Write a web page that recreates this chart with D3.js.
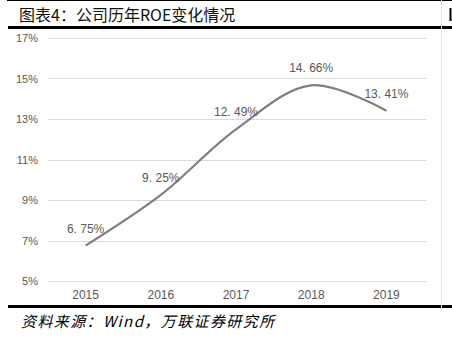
<!DOCTYPE html>
<html>
<head>
<meta charset="utf-8">
<script src="https://cdn.jsdelivr.net/npm/d3@7/dist/d3.min.js"></script>
<style>
  html, body { margin: 0; padding: 0; background: #fff; }
  svg { display: block; }
</style>
</head>
<body>
<svg id="chart" width="452" height="338"></svg>
<script>
// 公司历年ROE
const years = ["2015", "2016", "2017", "2018", "2019"];
const roe = [6.75, 9.25, 12.49, 14.66, 13.41];
const yTicks = [5, 7, 9, 11, 13, 15, 17];
const title = "图表4：公司历年ROE变化情况";
const source = "资料来源：Wind，万联证券研究所";

const svg = d3.select("#chart");
const W = 452, H = 338;

const x = d3.scaleBand().domain(years).range([48, 424]);
const y = d3.scaleLinear().domain([5, 17]).range([281, 38]);
const cx = d => x(d) + x.bandwidth() / 2;

// frame lines
svg.append("line").attr("x1", 7).attr("x2", W).attr("y1", 0.5).attr("y2", 0.5)
  .attr("stroke", "#000").attr("stroke-width", 1);
svg.append("line").attr("x1", 8).attr("x2", W).attr("y1", 27.5).attr("y2", 27.5)
  .attr("stroke", "#000").attr("stroke-width", 3);
svg.append("line").attr("x1", 8).attr("x2", W).attr("y1", 306.5).attr("y2", 306.5)
  .attr("stroke", "#000").attr("stroke-width", 3);
svg.append("line").attr("x1", 441.5).attr("x2", 441.5).attr("y1", 0).attr("y2", 308)
  .attr("stroke", "#e6e6e6").attr("stroke-width", 1);
// edge of the neighbouring panel's heading
svg.append("line").attr("x1", 450.5).attr("x2", 450.5).attr("y1", 8).attr("y2", 21)
  .attr("stroke", "#000").attr("stroke-width", 2);

// title
svg.append("text").attr("x", 19).attr("y", 21)
  .attr("font-family", "'Noto Sans CJK SC', sans-serif")
  .attr("font-size", 16).attr("fill", "#111").text(title);

// gridlines
svg.append("g").selectAll("line").data(yTicks).join("line")
  .attr("x1", 48).attr("x2", 426)
  .attr("y1", d => Math.round(y(d)) + 0.5).attr("y2", d => Math.round(y(d)) + 0.5)
  .attr("stroke", "#d9d9d9").attr("stroke-width", 1);

// y axis labels
const yAxis = d3.axisLeft(y).tickValues(yTicks).tickFormat(d => d + "%").tickSize(0).tickPadding(0);
const gy = svg.append("g").attr("transform", "translate(38,0)").call(yAxis);
gy.select(".domain").remove();
gy.selectAll("text").attr("font-family", "'Liberation Sans', Arial, sans-serif")
  .attr("font-size", 11).attr("fill", "#595959");

// x axis labels
const xAxis = d3.axisBottom(x).tickSize(0).tickPadding(0);
const gx = svg.append("g").attr("transform", "translate(0,290)").call(xAxis);
gx.select(".domain").remove();
gx.selectAll("text").attr("font-family", "'Liberation Sans', Arial, sans-serif")
  .attr("font-size", 12).attr("fill", "#595959");

// ROE line
const pts = years.map((yr, i) => [cx(yr), y(roe[i])]);
svg.append("path").datum(pts)
  .attr("d", d3.line().curve(d3.curveCatmullRom.alpha(0.5)))
  .attr("fill", "none").attr("stroke", "#7f7f7f").attr("stroke-width", 2.2);

// value labels
svg.append("g").selectAll("text").data(roe).join("text")
  .attr("x", (d, i) => cx(years[i]))
  .attr("y", d => y(d) - 13)
  .attr("text-anchor", "middle")
  .attr("font-family", "'Liberation Sans', Arial, sans-serif")
  .attr("font-size", 12).attr("fill", "#595959")
  .text(d => d.toFixed(2).replace(".", ". ") + "%");

// source
svg.append("text").attr("x", 21).attr("y", 327)
  .attr("font-family", "'Noto Sans CJK SC', sans-serif")
  .attr("font-size", 15).attr("font-style", "italic")
  .attr("letter-spacing", 1.4)
  .attr("fill", "#000").text(source);
</script>
</body>
</html>
